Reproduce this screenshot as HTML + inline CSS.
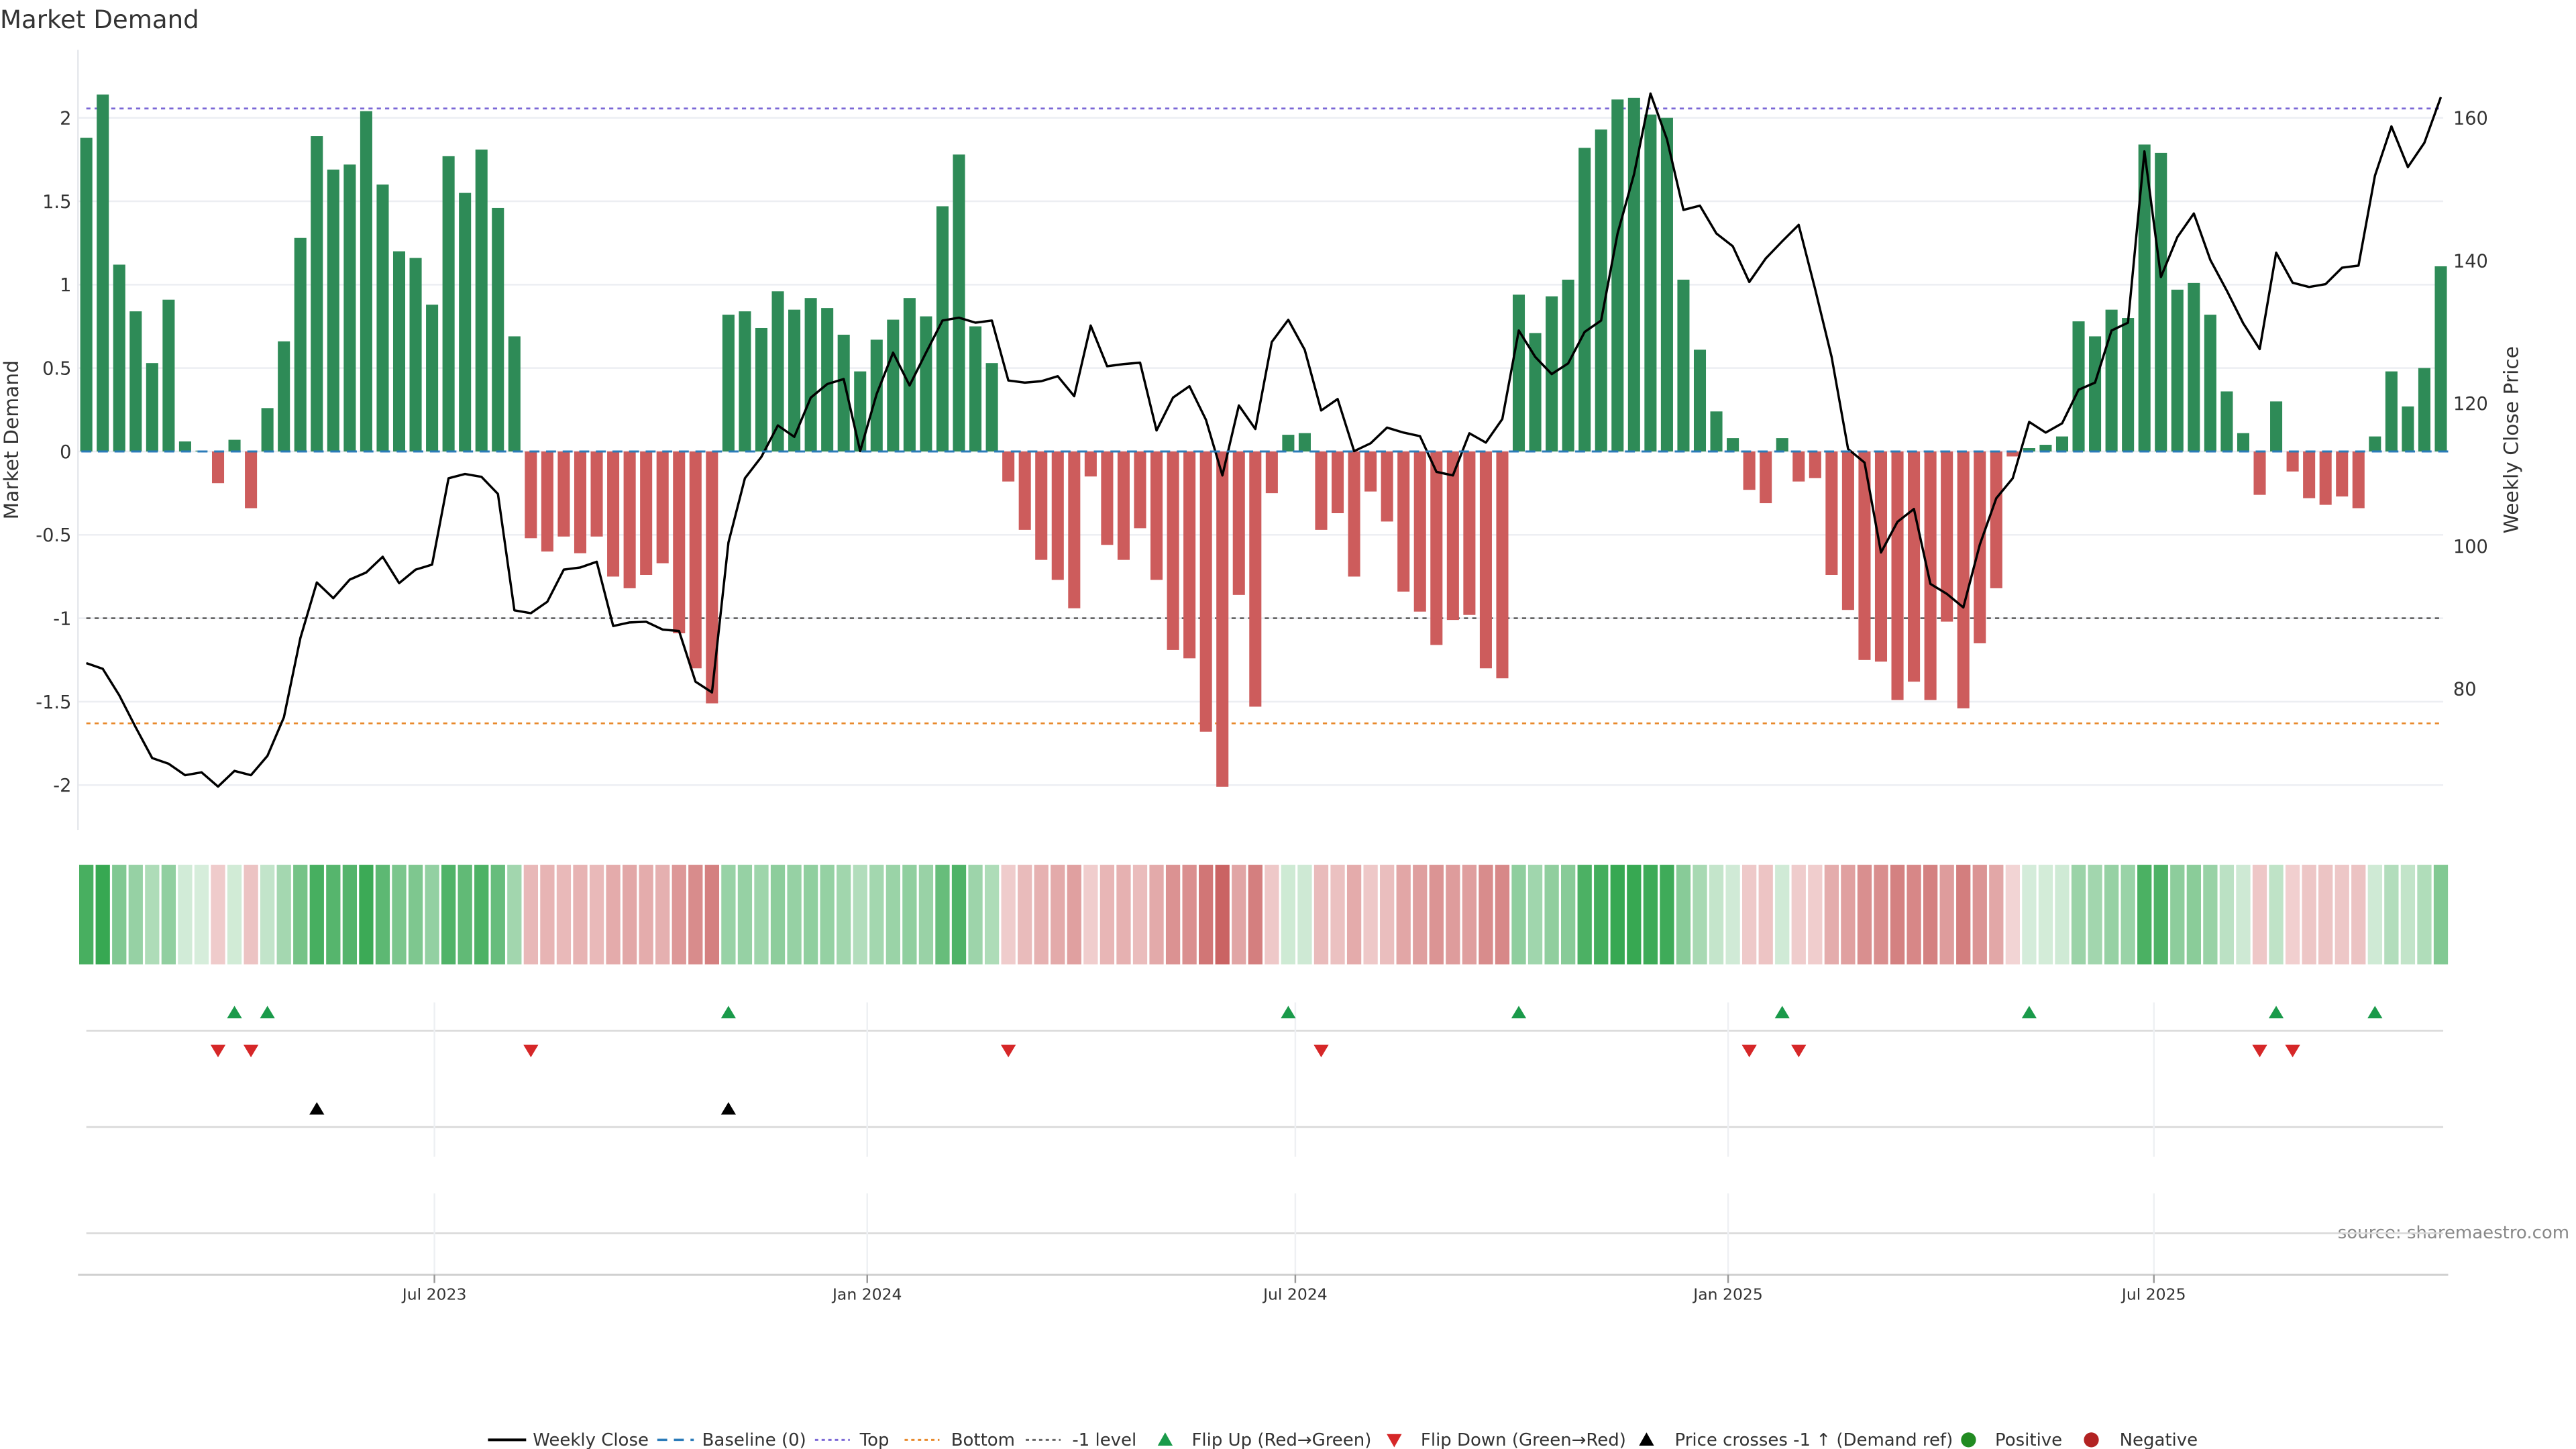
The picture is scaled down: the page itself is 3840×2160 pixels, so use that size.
<!DOCTYPE html>
<html><head><meta charset="utf-8">
<style>
html,body{margin:0;padding:0;background:#fff;}
svg{display:block;font-family:"DejaVu Sans","Liberation Sans",sans-serif;}
</style></head>
<body>
<svg id="chart" width="3840" height="2160" viewBox="0 0 1552 873" preserveAspectRatio="none" xmlns="http://www.w3.org/2000/svg">
<text x="0" y="17" font-size="15" fill="#333">Market Demand</text>
<text transform="translate(11,265) rotate(-90)" text-anchor="middle" font-size="12" fill="#333">Market Demand</text>
<text transform="translate(1517,265) rotate(-90)" text-anchor="middle" font-size="12" fill="#333">Weekly Close Price</text>
<text x="1548" y="746" text-anchor="end" font-size="10.5" fill="#888">source: sharemaestro.com</text>
<g id="grid"></g><g id="levels"></g><g id="bars"></g><g id="priceg"></g><g id="heat"></g><g id="marks"></g><g id="xaxis"></g><g id="legend"></g>
</svg>
<script>
const demand=[1.88,2.14,1.12,0.84,0.53,0.91,0.06,0.005,-0.19,0.07,-0.34,0.26,0.66,1.28,1.89,1.69,1.72,2.04,1.60,1.20,1.16,0.88,1.77,1.55,1.81,1.46,0.69,
-0.52,-0.60,-0.51,-0.61,-0.51,-0.75,-0.82,-0.74,-0.67,-1.09,-1.30,-1.51,
0.82,0.84,0.74,0.96,0.85,0.92,0.86,0.70,0.48,0.67,0.79,0.92,0.81,1.47,1.78,0.75,0.53,
-0.18,-0.47,-0.65,-0.77,-0.94,-0.15,-0.56,-0.65,-0.46,-0.77,-1.19,-1.24,-1.68,-2.01,-0.86,-1.53,-0.25,
0.10,0.11,
-0.47,-0.37,-0.75,-0.24,-0.42,-0.84,-0.96,-1.16,-1.01,-0.98,-1.30,-1.36,
0.94,0.71,0.93,1.03,1.82,1.93,2.11,2.12,2.02,2.00,1.03,0.61,0.24,0.08,
-0.23,-0.31,0.08,
-0.18,-0.16,-0.74,-0.95,-1.25,-1.26,-1.49,-1.38,-1.49,-1.02,-1.54,-1.15,-0.82,-0.03,
0.02,0.04,0.09,0.78,0.69,0.85,0.80,1.84,1.79,0.97,1.01,0.82,0.36,0.11,
-0.26,0.30,-0.12,-0.28,-0.32,-0.27,-0.34,0.09,0.48,0.27,0.50,1.11];
const price=[83.6,82.8,79.1,74.6,70.3,69.5,67.9,68.3,66.3,68.5,67.9,70.6,76.0,87.1,94.9,92.7,95.3,96.3,98.5,94.8,96.7,97.4,109.5,110.1,109.7,107.3,91.0,90.6,92.2,96.7,97.0,97.8,88.8,89.3,89.4,88.3,88.1,81.0,79.5,100.5,109.5,
112.5,116.9,115.3,120.8,122.7,123.4,113.3,121.3,127.1,122.5,127.1,131.6,132.0,131.3,131.6,123.2,122.9,123.1,123.8,121.0,130.9,125.2,125.5,125.7,116.2,120.8,122.4,117.7,109.9,119.7,116.4,128.6,131.7,127.5,119.0,120.6,113.3,
114.4,116.6,115.9,115.4,110.4,109.9,115.8,114.5,117.8,130.2,126.5,124.1,125.6,130.0,131.6,143.8,152.1,163.4,157.0,147.1,147.7,143.8,142.0,137.0,140.3,142.7,145.0,136.0,126.5,113.6,111.7,99.1,103.4,105.2,94.7,93.3,91.4,
100.2,106.7,109.5,117.4,115.9,117.2,121.9,122.9,130.2,131.3,155.3,137.7,143.3,146.6,140.1,135.8,131.2,127.6,141.1,136.9,136.3,136.7,139.0,139.3,151.9,158.8,153.1,156.5,162.9];
const yTicks=[2,1.5,1,0.5,0,-0.5,-1,-1.5,-2];
const yTickLabels=["2","1.5","1","0.5","0","-0.5","-1","-1.5","-2"];
const pTicks=[160,140,120,100,80];
const levelValues=[2.056,-1.63,-1];
const levelNames=["top-line","bottom-line","minus-one-level-line"];
const xTickDates=["2023-07-01","2024-01-01","2024-07-01","2025-01-01","2025-07-01"];
const xTickLabels=["Jul 2023","Jan 2024","Jul 2024","Jan 2025","Jul 2025"];
const startDate="2023-02-03";

const NS="http://www.w3.org/2000/svg";
const STEP=9.92, X0=52;
function xi(i){return X0+i*STEP;}
function xd(d){return X0+(Date.parse(d)-Date.parse(startDate))/(7*864e5)*STEP;}
function yL(v){return 272-100.5*v;}
function yP(p){return 71+(160-p)*4.3;}
function pFromL(v){return 160-(yL(v)-71)/4.3;}
function mk(tag,attrs,parent){const e=document.createElementNS(NS,tag);for(const k in attrs)e.setAttribute(k,attrs[k]);parent.appendChild(e);return e;}
const g=id=>document.getElementById(id);

// grid + y ticks
yTicks.forEach((v,k)=>{
  const l=mk('line',{x1:47,x2:1472,y1:yL(v),y2:yL(v),stroke:'#eceef2','stroke-width':1},g('grid'));
  
  
  const t=mk('text',{x:43,y:yL(v)+4,'text-anchor':'end','font-size':11,fill:'#333'},g('grid'));
  t.textContent=yTickLabels[k];
  
  
});
pTicks.forEach(p=>{
  const t=mk('text',{x:1478,y:yP(p)+4,'font-size':11,fill:'#333'},g('grid'));
  t.textContent=String(p);
  
  
});
const ax=mk('line',{x1:47,x2:47,y1:30,y2:500,stroke:'#e6e8ec'},g('grid'));



// levels
const lvlColors=['#7b68d6','#e8892b','#666'];
levelValues.forEach((v,k)=>{
  const l=mk('line',{x1:X0,x2:1472,y1:yL(v),y2:yL(v),stroke:lvlColors[k],'stroke-width':1.1,'stroke-dasharray':'2.5,2.5'},g('levels'));
  
  
});

// bars
demand.forEach((v,i)=>{
  const y0=yL(0),y1=yL(v);
  const r=mk('rect',{x:xi(i)-3.65,width:7.3,y:Math.min(y0,y1),height:Math.max(Math.abs(y1-y0),0.3),fill:v>=0?'#2e8b57':'#cd5c5c'},g('bars'));
  
  
});
const bl=mk('line',{x1:X0-3,x2:1475,y1:yL(0),y2:yL(0),stroke:'#2b7bb9','stroke-width':1.2,'stroke-dasharray':'6,4'},g('levels'));


g('bars').parentNode.appendChild(g('levels').lastChild);

// price line
const pl=mk('polyline',{points:price.map((p,i)=>xi(i)+','+yP(p)).join(' '),fill:'none',stroke:'#000','stroke-width':1.4,'stroke-linejoin':'round'},g('priceg'));



// heatmap
function mix(a,b,t){return 'rgb('+a.map((c,j)=>Math.round(c+(b[j]-c)*t)).join(',')+')';}
demand.forEach((v,i)=>{
  const t=Math.min(Math.abs(v)/2.1,1);
  const col=v>=0?mix([214,237,219],[55,168,82],t):mix([243,214,214],[200,94,94],t);
  const r=mk('rect',{x:xi(i)-4.3,width:8.6,y:521,height:60,fill:col},g('heat'));
  
  
});

// marker rows
[[621],[679],[743]].forEach(([y])=>{
  const l=mk('line',{x1:52,x2:1472,y1:y,y2:y,stroke:'#d8d8d8','stroke-width':1},g('marks'));
  
  
});
xTickDates.forEach(d=>{
  const x=xd(d);
  [[604,697],[719,768]].forEach(([a,b])=>{
    const l=mk('line',{x1:x,x2:x,y1:a,y2:b,stroke:'#eef0f3'},g('marks'));
    
    
  });
});
function tri(x,y,up,col,name){
  const pts=up?[[x,y-4],[x-4.5,y+3.5],[x+4.5,y+3.5]]:[[x,y+4],[x-4.5,y-3.5],[x+4.5,y-3.5]];
  const p=mk('polygon',{points:pts.map(q=>q.join(',')).join(' '),fill:col},g('marks'));
  
  
}
const thr=pFromL(-1);
for(let i=1;i<demand.length;i++){
  if(demand[i-1]<0&&demand[i]>=0)tri(xi(i),610,true,'#1a9a4a','flip-up-marker');
  if(demand[i-1]>=0&&demand[i]<0)tri(xi(i),633,false,'#d62728','flip-down-marker');
  if(price[i-1]<thr&&price[i]>=thr)tri(xi(i),668,true,'#000','price-cross-marker');
}

// x axis
const xa=mk('line',{x1:47,x2:1475,y1:768,y2:768,stroke:'#d0d0d0','stroke-width':1.2},g('xaxis'));


xTickDates.forEach((d,k)=>{
  const x=xd(d);
  mk('line',{x1:x,x2:x,y1:768,y2:773,stroke:'#999'},g('xaxis'));
  const t=mk('text',{x:x,y:783,'text-anchor':'middle','font-size':9.5,fill:'#333'},g('xaxis'));
  t.textContent=xTickLabels[k];
  
  
});

// legend
const L=g('legend');
function item(name,x,draw,label){
  const gg=mk('g',{},L);
  
  
  draw(gg);
  const t=mk('text',{x:x,y:871,'font-size':10.5,fill:'#333'},gg);t.textContent=label;
}
const ly=867.5;
item('legend-weekly-close',321,e=>mk('line',{x1:294,x2:317,y1:ly,y2:ly,stroke:'#000','stroke-width':1.6},e),'Weekly Close');
item('legend-baseline',423,e=>mk('line',{x1:396,x2:418,y1:ly,y2:ly,stroke:'#2b7bb9','stroke-width':1.4,'stroke-dasharray':'6,4'},e),'Baseline (0)');
item('legend-top',518,e=>mk('line',{x1:491,x2:512,y1:ly,y2:ly,stroke:'#7b68d6','stroke-width':1.2,'stroke-dasharray':'2,2'},e),'Top');
item('legend-bottom',573,e=>mk('line',{x1:545,x2:566,y1:ly,y2:ly,stroke:'#e8892b','stroke-width':1.2,'stroke-dasharray':'2,2'},e),'Bottom');
item('legend-minus-one',646,e=>mk('line',{x1:618,x2:639,y1:ly,y2:ly,stroke:'#666','stroke-width':1.2,'stroke-dasharray':'2,2'},e),'-1 level');
item('legend-flip-up',718,e=>mk('polygon',{points:'702,863 697.5,871 706.5,871',fill:'#1a9a4a'},e),'Flip Up (Red→Green)');
item('legend-flip-down',856,e=>mk('polygon',{points:'840,872 835.5,864 844.5,864',fill:'#d62728'},e),'Flip Down (Green→Red)');
item('legend-price-cross',1009,e=>mk('polygon',{points:'992,863 987.5,871 996.5,871',fill:'#000'},e),'Price crosses -1 ↑ (Demand ref)');
item('legend-positive',1202,e=>mk('circle',{cx:1186,cy:ly,r:4.5,fill:'#228b22'},e),'Positive');
item('legend-negative',1277,e=>mk('circle',{cx:1260,cy:ly,r:4.5,fill:'#b22222'},e),'Negative');
</script>
</body></html>
